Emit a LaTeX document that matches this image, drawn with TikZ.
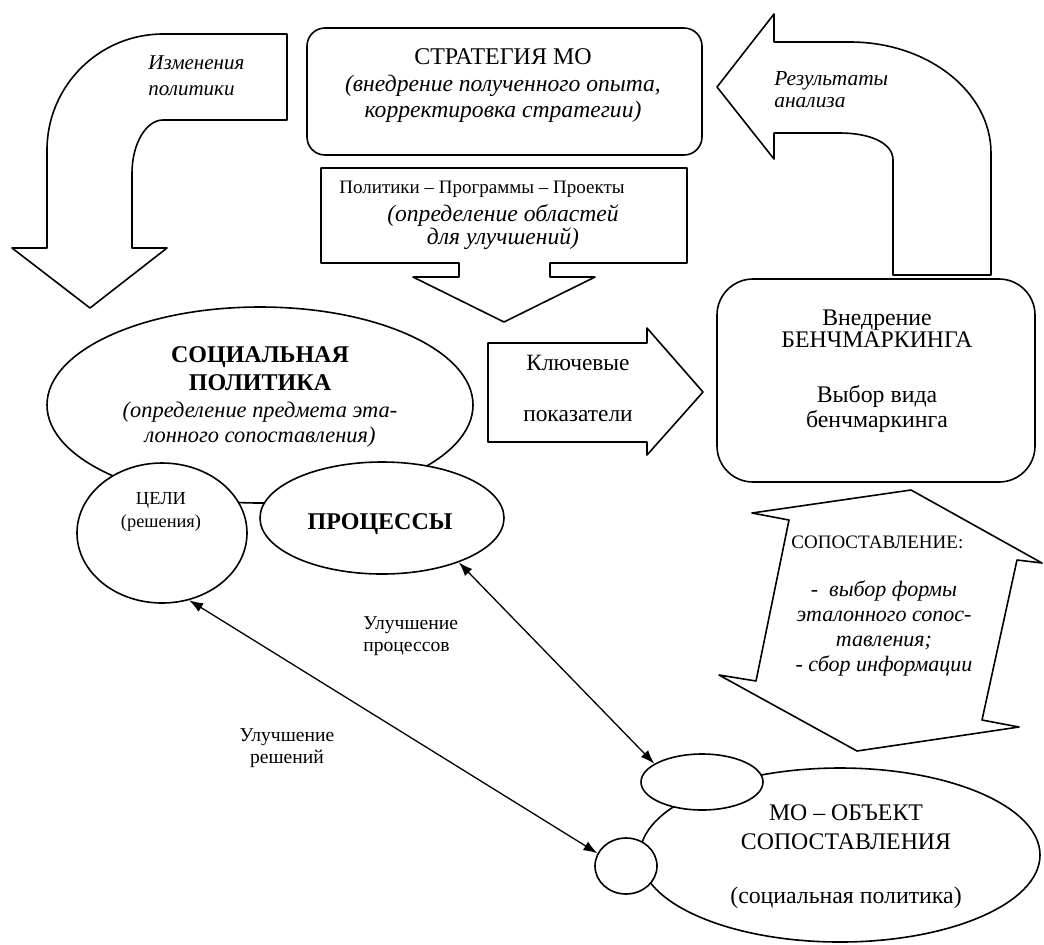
\documentclass[tikz,border=0pt]{standalone}
\usepackage{fontspec}
\setmainfont{Liberation Serif}
\usetikzlibrary{
    arrows.meta,
    shapes.geometric
}
\newcommand{\fsz}[2]{\fontsize{#1pt}{#2pt}\selectfont}
\tikzset{
    frame/.style={draw, line width=0.8pt},
    oval/.style={frame, ellipse, fill=white, inner sep=0pt},
    roundbox/.style={frame, inner sep=0pt},
    biarrow/.style={{Latex[length=7pt,width=5pt]}-{Latex[length=7pt,width=5pt]}, line width=0.65pt}
}

\begin{document}
\begin{tikzpicture}[x=0.5pt, y=0.5pt, line join=round]
                        \useasboundingbox (0,0) rectangle (1044,-944);

                        \draw[frame]
                        (47,-248) -- (47,-150) .. controls (47,-86) and (99,-34) .. (163,-34)
                        -- (287,-34) -- (287,-120) -- (163,-120)
                        .. controls (146,-120) and (132,-144) .. (132,-173)
                        -- (132,-248) -- (167,-248) -- (90,-308) -- (12,-248) -- cycle;

                        \draw[frame]
                        (717,-87) -- (774,-14) -- (774,-42) -- (850,-42)
                        .. controls (928,-42) and (991,-92) .. (991,-153)
                        -- (991,-275) -- (893,-275) -- (893,-160)
                        .. controls (893,-143) and (870,-133) .. (840,-133)
                        -- (774,-133) -- (774,-159) -- cycle;

                        \draw[frame]
                        (321,-168) -- (687,-168) -- (687,-263) -- (550,-263) -- (550,-277) -- (595,-277)
                        -- (504,-322) -- (413,-277) -- (459,-277) -- (459,-263) -- (321,-263) -- cycle;

                        \draw[frame]
                        (488,-343) -- (647,-343) -- (647,-328) -- (703,-392)
                        -- (647,-455) -- (647,-442) -- (488,-442) -- cycle;

                        \draw[frame]
                        (911,-490) -- (1042,-563) -- (1017,-560) -- (982,-720) -- (1019,-727)
                        -- (857,-751) -- (719,-675) -- (756,-681) -- (789,-520) -- (752,-513) -- cycle;

                        \node[roundbox, rounded corners=9pt, minimum width=197.5pt, minimum height=63.5pt] (strategy) at (504.5,-91.5) {};
                        \node[roundbox, rounded corners=18pt, minimum width=159pt, minimum height=101.5pt] (bench) at (876,-380.5) {};

                        \node[oval, minimum width=213pt, minimum height=98pt] (social) at (260,-405) {};
                        \node[oval, minimum width=85pt, minimum height=70pt] (goals) at (162,-533) {};
                        \node[oval, minimum width=122pt, minimum height=56pt] (processes) at (382,-518) {};

                        \node[oval, minimum width=200pt, minimum height=87pt] (mo) at (840,-855) {};
                        \node[oval, minimum width=61pt, minimum height=28pt] (moproc) at (702,-782) {};
                        \node[oval, minimum width=31pt, minimum height=28pt] (mogoals) at (626,-866) {};

                        \draw[biarrow] (goals.-68) -- (mogoals.156);
                        \draw[biarrow] (processes.-30) -- (moproc.159);

                        \node[font=\fsz{12}{14}] at (503,-57) {СТРАТЕГИЯ МО};
                        \node[font=\fsz{11.8}{13}\itshape, align=center] at (503,-99) {(внедрение полученного опыта,\\корректировка стратегии)};
                        \node[font=\fsz{9.5}{11}] at (482,-189) {Политики – Программы – Проекты};
                        \node[font=\fsz{11.8}{11.5}\itshape, align=center] at (503,-227) {(определение областей\\для улучшений)};
                        \node[font=\fsz{10.5}{13}\itshape, align=left, anchor=west, inner sep=0pt] at (148,-76) {Изменения\\политики};
                        \node[font=\fsz{10.7}{11}\itshape, align=left, anchor=west, inner sep=0pt] at (774,-90) {Результаты\\анализа};

                        \node[font=\fsz{12}{14}\bfseries, align=center] at (260,-369) {СОЦИАЛЬНАЯ\\ПОЛИТИКА};
                        \node[font=\fsz{11.2}{12.5}\itshape, align=center] at (260,-425) {(определение предмета эта-\\лонного сопоставления)};
                        \node[font=\fsz{9.2}{11.5}, align=center] at (161,-512) {ЦЕЛИ\\(решения)};
                        \node[font=\fsz{12}{14}\bfseries] at (380,-524) {ПРОЦЕССЫ};

                        \node[font=\fsz{11.7}{25.5}, align=center] at (578,-388) {Ключевые\\показатели};
                        \node[font=\fsz{11.9}{11}, align=center] at (877,-329) {Внедрение\\БЕНЧМАРКИНГА};
                        \node[font=\fsz{11.9}{12.5}, align=center] at (877,-409) {Выбор вида\\бенчмаркинга};

                        \node[font=\fsz{9.5}{11}, anchor=west, inner sep=0pt] at (791,-542) {СОПОСТАВЛЕНИЕ:};
                        \node[font=\fsz{11}{12.5}\itshape, align=center] at (884,-628) {-~ выбор формы\\эталонного сопос-\\тавления;\\- сбор информации};

                        \node[font=\fsz{9.8}{11}, align=left, anchor=west, inner sep=0pt] at (363,-636) {Улучшение\\процессов};
                        \node[font=\fsz{9.8}{11}, align=center] at (287,-748) {Улучшение\\решений};
                        \node[font=\fsz{11.9}{14.5}, align=center] at (846,-827) {МО – ОБЪЕКТ\\СОПОСТАВЛЕНИЯ};
                        \node[font=\fsz{11.9}{12}] at (846,-898) {(социальная политика)};
                    \end{tikzpicture}
\end{document}
